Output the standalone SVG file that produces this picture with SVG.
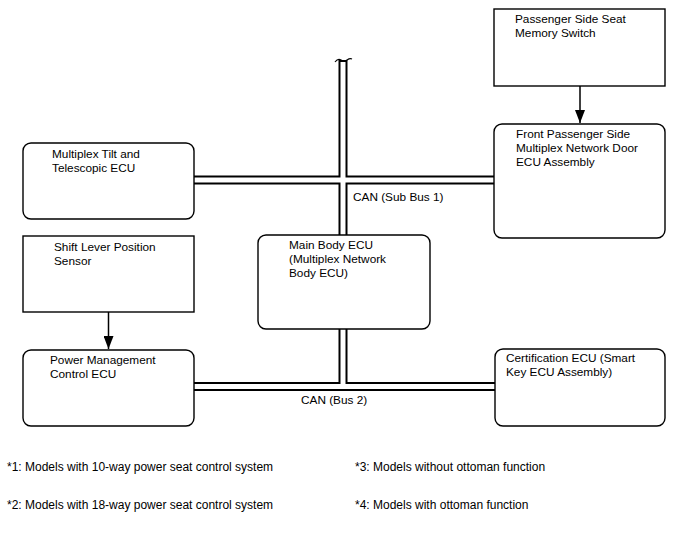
<svg xmlns="http://www.w3.org/2000/svg" width="688" height="560" viewBox="0 0 688 560">
<style>
text{font-family:"Liberation Sans",Arial,sans-serif;font-size:11.8px;fill:#000}
.box{fill:#fff;stroke:#000;stroke-width:1.4}
.busB{fill:none;stroke:#000;stroke-width:9}
.busW{fill:none;stroke:#fff;stroke-width:5}
.arr{fill:none;stroke:#000;stroke-width:1.5}
.note{font-size:12px}
</style>
<defs>
<marker id="ah" viewBox="0 0 13 10" refX="13" refY="5" markerWidth="13" markerHeight="10" markerUnits="userSpaceOnUse" orient="auto">
<path d="M0,0 L13,5 L0,10 Z" fill="#000"/>
</marker>
</defs>
<rect width="688" height="560" fill="#fff"/>
<g id="connectors">
<path class="busB" d="M343,60 V235 M194,180 H494 M343,329 V386.5 M194,386.5 H495"/>
<path class="busW" d="M343,62 V235 M194,180 H494 M343,329 V386.5 M194,386.5 H495"/>
<path d="M335,62 q3,-4 6,-2 t6,0 t5,-1" fill="none" stroke="#000" stroke-width="1.2"/>
<path class="arr" d="M580,86 V123" marker-end="url(#ah)"/>
<path class="arr" d="M108.5,312 V349" marker-end="url(#ah)"/>
<text x="353" y="201">CAN (Sub Bus 1)</text>
<text x="301" y="404">CAN (Bus 2)</text>
</g>
<g id="seat-switch">
<rect class="box" x="494" y="9" width="171" height="77"/>
<text x="515" y="23">Passenger Side Seat</text>
<text x="515" y="37">Memory Switch</text>
</g>
<g id="door-ecu">
<rect class="box" x="494" y="124" width="171" height="114" rx="8"/>
<text x="516" y="137.5">Front Passenger Side</text>
<text x="516" y="151.5">Multiplex Network Door</text>
<text x="516" y="165.5">ECU Assembly</text>
</g>
<g id="tilt-ecu">
<rect class="box" x="23" y="143" width="171" height="76" rx="8"/>
<text x="52" y="157.5">Multiplex Tilt and</text>
<text x="52" y="171.5">Telescopic ECU</text>
</g>
<g id="shift-sensor">
<rect class="box" x="23" y="236" width="171" height="76"/>
<text x="54" y="250.5">Shift Lever Position</text>
<text x="54" y="264.5">Sensor</text>
</g>
<g id="power-ecu">
<rect class="box" x="23" y="350" width="171" height="76" rx="8"/>
<text x="50" y="363.5">Power Management</text>
<text x="50" y="377.5">Control ECU</text>
</g>
<g id="main-body-ecu">
<rect class="box" x="258" y="235" width="172" height="94" rx="8"/>
<text x="289" y="248.5">Main Body ECU</text>
<text x="289" y="262.5">(Multiplex Network</text>
<text x="289" y="276.5">Body ECU)</text>
</g>
<g id="cert-ecu">
<rect class="box" x="495" y="349" width="170" height="77" rx="8"/>
<text x="506" y="362">Certification ECU (Smart</text>
<text x="506" y="376">Key ECU Assembly)</text>
</g>
<g id="notes">
<text class="note" x="7" y="471">*1: Models with 10-way power seat control system</text>
<text class="note" x="7" y="509">*2: Models with 18-way power seat control system</text>
<text class="note" x="355" y="471">*3: Models without ottoman function</text>
<text class="note" x="355" y="509">*4: Models with ottoman function</text>
</g>
</svg>
